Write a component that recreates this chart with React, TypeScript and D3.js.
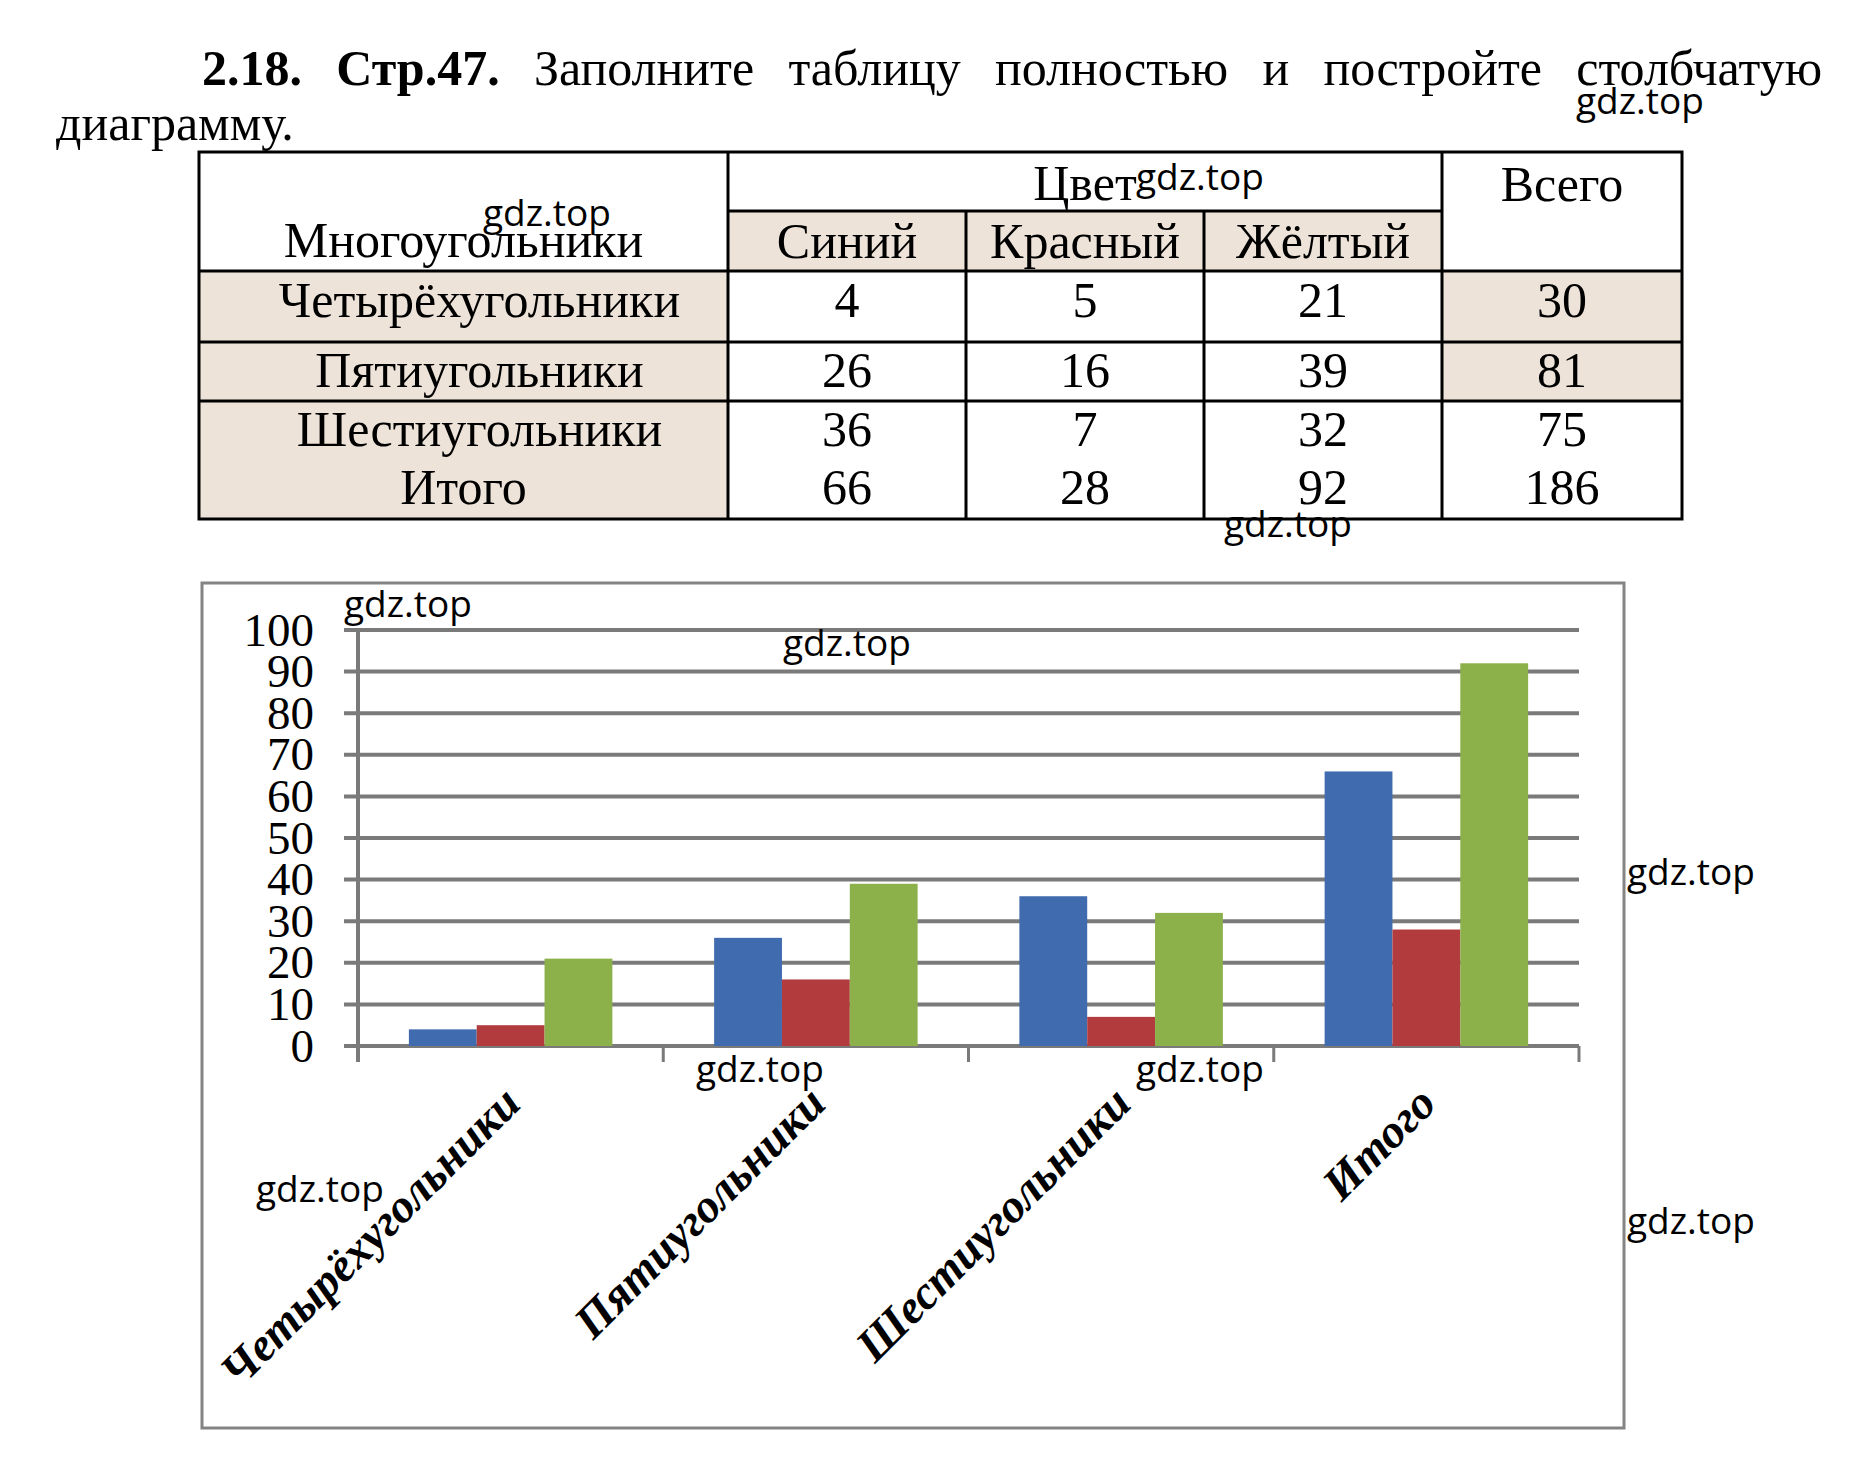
import { useMemo } from "react";
import * as d3 from "d3";

// data
const categories = ["Четырёхугольники", "Пятиугольники", "Шестиугольники", "Итого"];
const colorNames = ["Синий", "Красный", "Жёлтый"];
const blueValues = [4, 26, 36, 66];
const redValues = [5, 16, 7, 28];
const yellowValues = [21, 39, 32, 92];
const totals = [30, 81, 75, 186];
const yTicks = [0, 10, 20, 30, 40, 50, 60, 70, 80, 90, 100];

const seriesValues = [blueValues, redValues, yellowValues];
const barColors = ["#416BAF", "#B23B3E", "#8CB14A"];

const titleBold = ["2.18.", "Стр.47."];
const titleWords = ["Заполните", "таблицу", "полностью", "и", "постройте", "столбчатую"];
const titleLine2 = "диаграмму.";

const watermark = "gdz.top";
const watermarks: [number, number][] = [
  [1576, 114], [1136, 190], [483, 226], [1224, 537], [344, 617], [783, 656],
  [1627, 885], [696, 1082], [1136, 1082], [256, 1202], [1627, 1234],
];

const W = 1861;
const H = 1464;
const SERIF = "'Liberation Serif', 'Times New Roman', serif";
const SANS = "'Open Sans', 'DejaVu Sans', sans-serif";
const SHADE = "#EEE3D9";
const GRID = "#7A7A7A";

// table layout
const colX = [199, 728, 966, 1204, 1442, 1682];
const rowY = [152, 211, 271, 342, 401, 519];
const rowBase = [317, 387, 446, 504];
const rowLabelShift = [16, 16, 16, 0];
const TABLE_FONT = 50;

// chart layout
const PLOT = { left: 358, right: 1579, top: 630, bottom: 1046 };
const FRAME = { left: 202, top: 583, right: 1624, bottom: 1428 };

const measureText = (text: string, font: string) => {
  const ctx = document.createElement("canvas").getContext("2d");
  if (!ctx) return text.length * 20;
  ctx.font = font;
  return ctx.measureText(text).width;
};

const Title = () => {
  const words = useMemo(() => {
    const tokens = [
      ...titleBold.map((t) => ({ t, bold: true })),
      ...titleWords.map((t) => ({ t, bold: false })),
    ];
    const widths = tokens.map((k) =>
      measureText(k.t, `${k.bold ? "bold " : ""}50px 'Liberation Serif'`)
    );
    const start = 202;
    const end = 1822;
    const gap = (end - start - d3.sum(widths)) / (tokens.length - 1);
    let x = start;
    return tokens.map((k, i) => {
      const pos = x;
      x += widths[i] + gap;
      return { ...k, x: pos };
    });
  }, []);

  return (
    <g fontFamily={SERIF} fontSize={50} fill="#000">
      {words.map((w, i) => (
        <text key={i} x={w.x} y={85} fontWeight={w.bold ? "bold" : "normal"}>
          {w.t}
        </text>
      ))}
      <text x={56} y={140}>{titleLine2}</text>
    </g>
  );
};

const Table = () => {
  const cx = (i: number) => (colX[i] + colX[i + 1]) / 2;
  return (
    <g fontFamily={SERIF} fontSize={TABLE_FONT} textAnchor="middle">
      {/* shading */}
      <rect x={colX[1]} y={rowY[1]} width={colX[4] - colX[1]} height={rowY[2] - rowY[1]} fill={SHADE} />
      <rect x={colX[0]} y={rowY[2]} width={colX[1] - colX[0]} height={rowY[5] - rowY[2]} fill={SHADE} />
      <rect x={colX[4]} y={rowY[2]} width={colX[5] - colX[4]} height={rowY[4] - rowY[2]} fill={SHADE} />

      {/* grid lines */}
      <g stroke="#000" strokeWidth={3}>
        <rect x={colX[0]} y={rowY[0]} width={colX[5] - colX[0]} height={rowY[5] - rowY[0]} fill="none" />
        <line x1={colX[1]} x2={colX[1]} y1={rowY[0]} y2={rowY[5]} />
        <line x1={colX[4]} x2={colX[4]} y1={rowY[0]} y2={rowY[5]} />
        <line x1={colX[2]} x2={colX[2]} y1={rowY[1]} y2={rowY[5]} />
        <line x1={colX[3]} x2={colX[3]} y1={rowY[1]} y2={rowY[5]} />
        <line x1={colX[1]} x2={colX[4]} y1={rowY[1]} y2={rowY[1]} />
        {[2, 3, 4].map((r) => (
          <line key={r} x1={colX[0]} x2={colX[5]} y1={rowY[r]} y2={rowY[r]} />
        ))}
      </g>

      {/* headers */}
      <text x={cx(0)} y={257}>Многоугольники</text>
      <text x={(colX[1] + colX[4]) / 2} y={200}>Цвет</text>
      <text x={cx(4)} y={201}>Всего</text>
      {colorNames.map((c, i) => (
        <text key={c} x={cx(i + 1)} y={258}>{c}</text>
      ))}

      {/* body */}
      {categories.map((cat, r) => (
        <g key={cat}>
          <text x={cx(0) + rowLabelShift[r]} y={rowBase[r]}>{cat}</text>
          {seriesValues.map((vals, s) => (
            <text key={s} x={cx(s + 1)} y={rowBase[r]}>{vals[r]}</text>
          ))}
          <text x={cx(4)} y={rowBase[r]}>{totals[r]}</text>
        </g>
      ))}
    </g>
  );
};

const BarChart = () => {
  const x = d3
    .scaleBand<string>()
    .domain(categories)
    .range([PLOT.left, PLOT.right])
    .paddingInner(1 / 3)
    .paddingOuter(1 / 6);
  const xs = d3
    .scaleBand<number>()
    .domain(d3.range(seriesValues.length))
    .range([0, x.bandwidth()]);
  const y = d3.scaleLinear().domain([0, 100]).range([PLOT.bottom, PLOT.top]);
  const step = x.step();
  const tickXs = d3.range(categories.length + 1).map((i) => PLOT.left + i * step);

  return (
    <g>
      <rect
        x={FRAME.left}
        y={FRAME.top}
        width={FRAME.right - FRAME.left}
        height={FRAME.bottom - FRAME.top}
        fill="none"
        stroke="#848484"
        strokeWidth={3}
      />

      {/* gridlines */}
      {yTicks.map((t) => (
        <line key={t} x1={PLOT.left - 14} x2={PLOT.right} y1={y(t)} y2={y(t)} stroke={GRID} strokeWidth={4} />
      ))}

      {/* y labels */}
      <g fontFamily={SERIF} fontSize={47} textAnchor="end">
        {yTicks.map((t) => (
          <text key={t} x={314} y={y(t) + 15.5}>{t}</text>
        ))}
      </g>

      {/* bars */}
      {categories.map((cat, i) => (
        <g key={cat} transform={`translate(${x(cat)},0)`}>
          {seriesValues.map((vals, s) => (
            <rect
              key={s}
              x={xs(s)}
              y={y(vals[i])}
              width={xs.bandwidth()}
              height={y(0) - y(vals[i])}
              fill={barColors[s]}
            />
          ))}
        </g>
      ))}

      {/* axes */}
      <line x1={PLOT.left} x2={PLOT.left} y1={PLOT.top} y2={PLOT.bottom + 16} stroke={GRID} strokeWidth={4} />
      {tickXs.map((tx, i) => (
        <line key={i} x1={tx} x2={tx} y1={PLOT.bottom} y2={PLOT.bottom + 16} stroke={GRID} strokeWidth={3} />
      ))}

      {/* category labels */}
      <g fontFamily={SERIF} fontSize={47} fontWeight="bold" fontStyle="italic" textAnchor="end">
        {categories.map((cat) => {
          const px = (x(cat) ?? 0) + x.bandwidth() / 2 + 12;
          const py = PLOT.bottom + 60;
          return (
            <text key={cat} x={px} y={py} transform={`rotate(-45, ${px}, ${py})`}>
              {cat}
            </text>
          );
        })}
      </g>
    </g>
  );
};

export default function App() {
  return (
    <div style={{ position: "absolute", left: 0, top: 0 }}>
      <svg width={W} height={H} style={{ display: "block", background: "#fff" }}>
        <rect width={W} height={H} fill="#fff" />
        <Title />
        <Table />
        <BarChart />
        <g fontFamily={SANS} fontSize={37} fill="#000">
          {watermarks.map(([wx, wy], i) => (
            <text key={i} x={wx} y={wy}>{watermark}</text>
          ))}
        </g>
      </svg>
    </div>
  );
}
